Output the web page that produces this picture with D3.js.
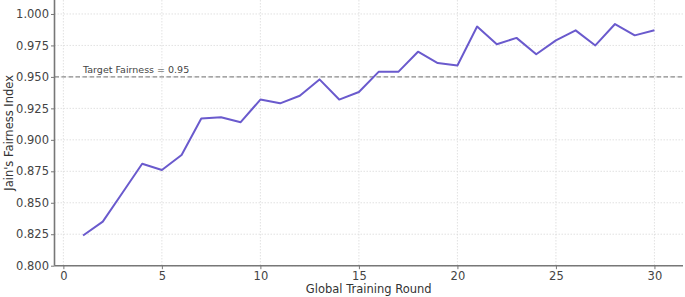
<!DOCTYPE html>
<html><head><meta charset="utf-8">
<script src="https://cdn.jsdelivr.net/npm/d3@7"></script>
<style>body{margin:0;background:#fff}svg{display:block}text{font-family:"DejaVu Sans",sans-serif}</style>
</head><body><svg id="c" width="685" height="297"></svg>
<script>
const rounds = d3.range(1, 31);
const fairness = [0.824,0.835,0.858,0.881,0.876,0.888,0.917,0.918,0.914,0.932,
                  0.929,0.935,0.948,0.932,0.938,0.954,0.954,0.970,0.961,0.959,
                  0.990,0.976,0.981,0.968,0.979,0.987,0.975,0.992,0.983,0.987];
const xTicks = [0,5,10,15,20,25,30];
const yTicks = [0.800,0.825,0.850,0.875,0.900,0.925,0.950,0.975,1.000];
const target = 0.95;
const targetLabel = "Target Fairness = 0.95";
const xLabel = "Global Training Round";
const yLabel = "Jain's Fairness Index";

const svg = d3.select("#c");
const L = 54.5, R = 683, T = 0, B = 265.7;
const x = d3.scaleLinear().domain([-0.45, 31.45]).range([L, R]);
const y = d3.scaleLinear().domain([0.8, 1.0111]).range([B, T]);

// grid
svg.append("g").selectAll("line").data(xTicks).join("line")
  .attr("x1", d=>x(d)).attr("x2", d=>x(d)).attr("y1", T).attr("y2", B)
  .attr("stroke", "#d9d9d9").attr("stroke-width", 0.8).attr("stroke-dasharray", "1.5,1.5");
svg.append("g").selectAll("line").data(yTicks).join("line")
  .attr("x1", L).attr("x2", R).attr("y1", d=>y(d)).attr("y2", d=>y(d))
  .attr("stroke", "#d9d9d9").attr("stroke-width", 0.8).attr("stroke-dasharray", "1.5,1.5");

// target line
svg.append("line").attr("x1", L).attr("x2", R).attr("y1", y(target)).attr("y2", y(target))
  .attr("stroke", "#8c8c8c").attr("stroke-width", 1.2).attr("stroke-dasharray", "4.5,2.5");
svg.append("text").attr("x", x(1)).attr("y", y(target) - 3.5)
  .attr("font-size", 9.5).attr("fill", "#444").text(targetLabel);

// line
const line = d3.line().x((d,i)=>x(rounds[i])).y(d=>y(d));
svg.append("path").datum(fairness).attr("d", line).attr("fill", "none")
  .attr("stroke", "#6a5acd").attr("stroke-width", 2).attr("stroke-linejoin", "round");

// axes
const xAxis = d3.axisBottom(x).tickValues(xTicks).tickFormat(d3.format("d")).tickSize(3.5).tickPadding(3);
const yAxis = d3.axisLeft(y).tickValues(yTicks).tickFormat(d3.format(".3f")).tickSize(3.5).tickPadding(2);
const gx = svg.append("g").attr("transform", `translate(0,${B})`).call(xAxis);
const gy = svg.append("g").attr("transform", `translate(${L},0)`).call(yAxis);
[gx, gy].forEach(g => {
  g.select(".domain").attr("stroke", "#777").attr("stroke-width", 1.6);
  g.selectAll(".tick line").attr("stroke", "#777").attr("stroke-width", 1);
  g.selectAll(".tick text").attr("font-size", 11.5).attr("fill", "#444").attr("font-family", "DejaVu Sans");
});
gx.select(".domain").attr("d", `M${L},0H${R}`);
gy.select(".domain").attr("d", `M0,${B}V${T}`);

svg.append("text").attr("x", (L+R)/2).attr("y", 293).attr("text-anchor", "middle")
  .attr("font-size", 11.5).attr("fill", "#333").text(xLabel);
svg.append("text").attr("transform", `translate(13,${(T+B)/2}) rotate(-90)`).attr("text-anchor", "middle")
  .attr("font-size", 11.5).attr("fill", "#333").text(yLabel);
</script></body></html>
